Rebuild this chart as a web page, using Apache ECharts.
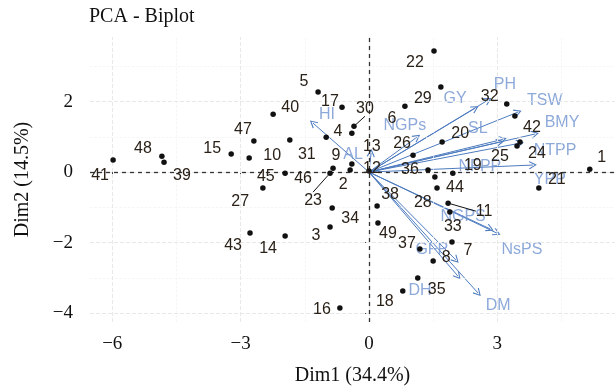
<!DOCTYPE html>
<html>
<head>
<meta charset="utf-8">
<script src="https://cdn.jsdelivr.net/npm/echarts@6/dist/echarts.min.js"></script>
<style>
  html, body { margin: 0; padding: 0; background: #fff; }
  #chart { width: 615px; height: 387px; }
</style>
</head>
<body>
<div id="chart"></div>
<script>
// individuals (genotypes) on Dim1 / Dim2
const ids = ['1','2','3','4','5','6','7','8','9','10','11','12','13','14','15','16','17','18','19','20','21','22','23','24','25',
  '26','27','28','29','30','31','32','33','34','35','36','37','38','39','40','41','42','43','44','45','46','47','48','49'];
const dim1 = [5.16, -0.44, -0.91, -0.40, -1.19, 0.84, 1.94, 1.50, -0.84, -2.80, 1.85, 0.00, -0.40, -1.96, -3.22, -0.68, -0.63,
  0.79, 1.96, 1.71, 3.97, 1.52, -0.91, 3.53, 3.46, 1.03, -1.00, 1.54, 1.68, -0.35, -1.85, 3.22, 1.89, -0.86, 1.14, 1.38, 1.19,
  0.19, -4.79, -2.24, -5.98, 3.41, -2.78, 1.59, -2.48, -1.96, -2.69, -4.84, 0.21];
const dim2 = [0.08, 0.06, -1.56, 1.10, 2.27, 1.87, -1.98, -2.52, 0.11, 0.40, -0.88, 0.03, 0.23, -1.81, 0.51, -3.85, 1.84,
  -3.37, -0.03, 0.85, -0.45, 3.43, -0.03, 0.85, 0.74, 0.48, 0.99, -0.14, 2.41, 1.30, 0.91, 1.93, -1.13, -1.02, -3.00, 0.06, -2.18,
  -0.96, 0.28, 1.64, 0.34, 1.59, -1.73, -0.45, -0.45, -0.03, 0.88, 0.45, -1.44];

// variables (arrows)
const varNames = ['HI', 'AL', 'GY', 'PH', 'TSW', 'BMY', 'NGPs', 'SL', 'NTPP', 'NFPP', 'YPP', 'NGPS', 'NsPS', 'GFP', 'DH', 'DM'];
const varDim1 = [-1.31, 0.05, 2.48, 2.78, 3.48, 3.88, 1.12, 3.13, 3.53, 3.06, 3.83, 2.83, 2.99, 2.03, 2.08, 2.55];
const varDim2 = [1.39, 0.54, 1.81, 2.04, 1.70, 1.08, 0.99, 0.93, 0.82, 0.85, 0.20, -1.61, -1.73, -2.49, -2.95, -3.43];

const xTicks = [-6, -3, 0, 3];
const yTicks = [-4, -2, 0, 2];
const xMinor = [-4.5, -1.5, 1.5, 4.5];
const yMinor = [-3, -1, 1, 3];

// where the repelled labels ended up, in px from their point
const pointNudge = [[12,-12],[-7,15],[-14,8],[-14,-2],[-14,-10],[-13,12],[16,9],[13,-3],[3,-13],[23,-2],[36,8],[3,-2],[20,-17],
  [-17,13],[-19,-6],[-18,2],[-12,-6],[-18,11],[20,-8],[18,-9],[18,-8],[-19,11],[-17,27],[17,11],[-17,11],[-11,-12],[-86,64],
  [-12,26],[-18,12],[11,-18],[17,15],[-17,-7],[3,15],[18,11],[19,12],[-18,0],[-13,-5],[13,-11],[18,13],[17,-7],[-13,15],[17,12],
  [-17,12],[18,0],[3,-11],[18,5],[-11,-11],[-19,-8],[10,11]];
const leaderIds = ['11', '23', '30'];
const varNudge = [[14,-8],[-18,2],[-20,-10],[17,-16],[27,-12],[27,-11],[-12,-12],[-25,-11],[35,7],[-20,24],[17,15],[-27,-12],
  [25,16],[-24,-10],[-38,14],[20,13]];

const serif = 'Liberation Serif';
const sans = 'Liberation Sans';
const arrowColor = '#4d7bbf';
const varLabelColor = '#7094cf';

const chart = echarts.init(document.getElementById('chart'), null, { renderer: 'canvas' });

const gridLines = [
  ...xMinor.map((v) => ({ xAxis: v, lineStyle: { color: '#f2f2f2', width: 0.7 } })),
  ...yMinor.map((v) => ({ yAxis: v, lineStyle: { color: '#f2f2f2', width: 0.7 } })),
  ...xTicks.map((v) => ({ xAxis: v, lineStyle: { color: '#e8e8e8', width: 1 } })),
  ...yTicks.map((v) => ({ yAxis: v, lineStyle: { color: '#e8e8e8', width: 1 } })),
];

const minus = (v) => String(v).replace('-', '\u2212');

const option = {
  animation: false,
  title: {
    text: 'PCA - Biplot',
    left: 84,
    top: 2,
    textStyle: { fontFamily: serif, fontSize: 20, fontWeight: 'normal', color: '#111' },
  },
  grid: { left: 90, right: 0, top: 37, bottom: 65, outerBoundsMode: 'none', containLabel: false },
  xAxis: {
    type: 'value',
    min: -6.52,
    max: 5.75,
    name: 'Dim1 (34.4%)',
    nameLocation: 'middle',
    nameGap: 44,
    nameTextStyle: { fontFamily: serif, fontSize: 20, color: '#111' },
    axisLine: { show: false },
    axisTick: { show: true, customValues: xTicks, length: 4, lineStyle: { color: '#444' } },
    axisLabel: {
      customValues: xTicks,
      margin: 13,
      fontFamily: serif,
      fontSize: 19,
      color: '#111',
      formatter: minus,
    },
    splitLine: { show: false },
  },
  yAxis: {
    type: 'value',
    min: -4.25,
    max: 3.83,
    name: 'Dim2 (14.5%)',
    nameLocation: 'middle',
    nameRotate: 90,
    nameGap: 57,
    nameTextStyle: { fontFamily: serif, fontSize: 20, color: '#111' },
    axisLine: { show: false },
    axisTick: { show: true, customValues: yTicks, length: 4, lineStyle: { color: '#444' } },
    axisLabel: {
      customValues: yTicks,
      margin: 17,
      fontFamily: serif,
      fontSize: 19,
      color: '#111',
      formatter: minus,
    },
    splitLine: { show: false },
  },
  series: [
    {
      // background grid + dashed zero lines
      type: 'scatter',
      z: 1,
      data: [],
      silent: true,
      markLine: {
        silent: true,
        symbol: ['none', 'none'],
        label: { show: false },
        data: [
          ...gridLines,
          { xAxis: 0, lineStyle: { color: '#333', width: 1.3, type: [4, 4] } },
          { yAxis: 0, lineStyle: { color: '#333', width: 1.3, type: [4, 4] } },
        ],
      },
    },
    {
      type: 'lines',
      coordinateSystem: 'cartesian2d',
      z: 3,
      silent: true,
      symbol: ['none', 'path://M5,0 L10,9 L9,10 L5,2.6 L1,10 L0,9 Z'],
      symbolSize: [7, 8],
      lineStyle: { color: arrowColor, width: 1, opacity: 1 },
      data: varNames.map((n, i) => ({ name: n, coords: [[0, 0], [varDim1[i], varDim2[i]]] })),
    },
    {
      type: 'scatter',
      z: 4,
      silent: true,
      symbolSize: 0.1,
      data: varNames.map((n, i) => ({ name: n, value: [varDim1[i], varDim2[i]] })),
      label: {
        show: true,
        position: 'inside',
        formatter: '{b}',
        fontFamily: sans,
        fontSize: 16,
        color: varLabelColor,
      },
      labelLayout: (p) => ({ dx: varNudge[p.dataIndex][0], dy: varNudge[p.dataIndex][1] }),
    },
    {
      type: 'scatter',
      z: 5,
      symbolSize: 5.5,
      itemStyle: { color: '#111', opacity: 1 },
      data: ids.map((id, i) => ({
        name: id,
        value: [dim1[i], dim2[i]],
        labelLine: { show: leaderIds.includes(id) },
      })),
      label: {
        show: true,
        position: 'inside',
        formatter: '{b}',
        fontFamily: sans,
        fontSize: 16,
        color: '#2a2118',
      },
      labelLine: { show: false, lineStyle: { color: '#111', width: 1 } },
      labelLayout: (p) => ({ dx: pointNudge[p.dataIndex][0], dy: pointNudge[p.dataIndex][1] }),
    },
  ],
};

chart.setOption(option);
</script>
</body>
</html>
